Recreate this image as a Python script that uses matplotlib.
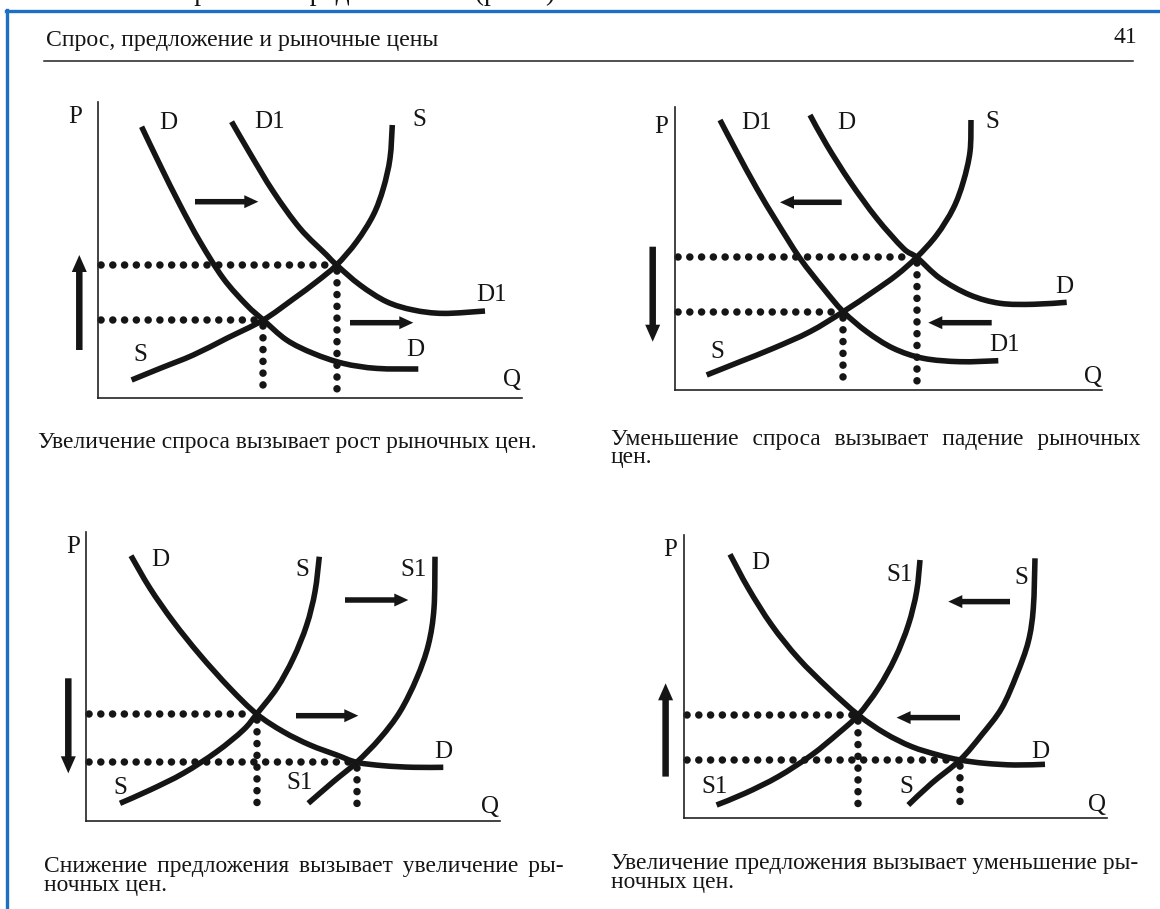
import matplotlib
matplotlib.use("Agg")
import matplotlib.pyplot as plt
from matplotlib.lines import Line2D
from matplotlib.path import Path
from matplotlib.patches import PathPatch
from matplotlib.transforms import Affine2D
from matplotlib.font_manager import FontProperties

# --- data (Q to the right, P upwards) ---

# 1: demand rises
p1_D_q = [43.3, 61.7, 81.7, 101.7, 125, 148.3, 165, 188.3, 215, 245, 278.3, 320]
p1_D_p = [271, 232.7, 192.7, 156, 119.3, 92.7, 77.7, 57.7, 44.3, 34.3, 29.3, 28.7]
p1_D1_q = [133.3, 151.7, 175, 201.7, 228.3, 238.3, 261.7, 288.3, 315, 345, 386.7]
p1_D1_p = [276, 244.3, 206, 169.3, 142.7, 132.7, 112.7, 96, 87.7, 84.3, 86.7]
p1_S_q = [33.3, 61.7, 95, 128.3, 165, 195, 218.3, 238.3, 258.3, 275, 285, 291.7, 294]
p1_S_p = [17.7, 29.3, 42.7, 59.3, 77.7, 98.7, 116, 132.7, 156, 182.7, 209.3, 239.3, 272.7]
p1_eq_q = [165, 238.3]
p1_eq_p = [77.7, 132.7]
p1_arrows = [(-19, 47.7, -19, 142.7), (96.7, 196, 160, 196), (251.7, 75, 315, 75)]
p1_labels = [("P", -23.3, 281), ("D", 70, 274.3), ("D1", 171.7, 276), ("S", 321, 277.7),
             ("D1", 393.3, 102.7), ("D", 316.7, 47.7), ("S", 41.7, 42.7), ("Q", 413.3, 17.7)]

# 2: demand falls
p2_D1_q = [45, 61.7, 81.7, 101.7, 125, 148.3, 168.3, 191.7, 218.3, 248.3, 285, 323.3]
p2_D1_p = [270, 238.3, 201.7, 168.3, 131.7, 101.7, 78.3, 58.3, 41.7, 31.7, 28.3, 29.3]
p2_D_q = [135, 151.7, 175, 201.7, 228.3, 241.7, 265, 295, 325, 358.3, 391.7]
p2_D_p = [275, 245, 208.3, 171.7, 141.7, 132.7, 111.7, 95, 86.7, 85.7, 87.7]
p2_S_q = [31.7, 65, 98.3, 135, 168.3, 198.3, 221.7, 241.7, 261.7, 278.3, 288.3, 295, 296]
p2_S_p = [15, 28.3, 41.7, 58.3, 78.3, 98.3, 115, 132.7, 155, 181.7, 208.3, 238.3, 270]
p2_eq_q = [168.3, 241.7]
p2_eq_p = [78.3, 132.7]
p2_arrows = [(-22.3, 143.3, -22.3, 48.3), (166.7, 187.7, 105, 187.7), (316.7, 67.3, 253.3, 67.3)]
p2_labels = [("P", -14.3, 263.3), ("D1", 81.7, 266.7), ("D", 171.7, 266.7), ("S", 317.7, 267.7),
             ("D", 389, 103.3), ("D1", 330, 45), ("S", 42.3, 38.3), ("Q", 418.3, 13.3)]

# 3: supply falls
p3_D_q = [45, 64, 87.3, 114, 144, 170.7, 197.3, 224, 250.7, 270.7, 297.3, 327.3, 357.3]
p3_D_p = [265.3, 232.7, 199.3, 166, 132.7, 107, 89.3, 76, 66, 58.7, 55.3, 53.7, 53.7]
p3_S_q = [34, 64, 97.3, 130.7, 157.3, 170.7, 190.7, 207.3, 220.7, 229, 233.3]
p3_S_p = [17.7, 31, 47.7, 69.3, 91, 107, 132.7, 162.7, 196, 229.3, 264.3]
p3_S1_q = [222.3, 247.3, 270.7, 294, 314, 330.7, 342.3, 348, 349]
p3_S1_p = [17.7, 39.3, 58.7, 82.7, 109.3, 142.7, 176, 212.7, 264.3]
p3_eq_q = [170.7, 270.7]
p3_eq_p = [107, 58.7]
p3_arrows = [(-17.7, 142.7, -17.7, 47.7), (259, 221, 322.3, 221), (210, 105.3, 272.3, 105.3)]
p3_labels = [("P", -12.7, 274.3), ("D", 74, 261), ("S", 216.7, 251), ("S1", 327.3, 251),
             ("D", 357.3, 69.3), ("S", 34, 32.7), ("S1", 214, 37.7), ("Q", 404, 14.3)]

# 4: supply rises
p4_D_q = [45.7, 64, 87.3, 114, 144, 174, 200.7, 227.3, 254, 275.7, 300.7, 330.7, 360.7]
p4_D_p = [264, 230, 193.3, 160, 130, 103.3, 85, 71.7, 63.3, 58.3, 55, 53.3, 54]
p4_S1_q = [32.3, 60.7, 94, 127.3, 154, 174, 194, 210.7, 224, 232.3, 235.7]
p4_S1_p = [13.3, 25, 41.7, 63.3, 85, 103.3, 130, 160, 193.3, 226.7, 258.3]
p4_S_q = [224, 247.3, 275.7, 297.3, 317.3, 332.3, 344, 349, 350.7]
p4_S_p = [13.3, 35, 58.3, 83.3, 110, 143.3, 176.7, 210, 260]
p4_eq_q = [174, 275.7]
p4_eq_p = [103.3, 58.3]
p4_arrows = [(-18.7, 41.7, -18.7, 135), (325.7, 216.7, 264, 216.7), (275.7, 100.7, 212.3, 100.7)]
p4_labels = [("P", -14.3, 268.3), ("D", 75.7, 255), ("S1", 215.7, 243.3), ("S", 337.3, 240),
             ("D", 355.7, 66.7), ("S1", 30.7, 31.7), ("S", 222.3, 31.7), ("Q", 412.3, 13.3)]

header = "Спрос, предложение и рыночные цены"
page_no = "41"
top_cut = "спросом и предложением (рис.3)."
cap1 = ["Увеличение спроса вызывает рост рыночных цен."]
cap2 = ["Уменьшение спроса вызывает падение рыночных", "цен."]
cap3 = ["Снижение предложения вызывает увеличение ры-", "ночных цен."]
cap4 = ["Увеличение предложения вызывает уменьшение ры-", "ночных цен."]

# --- drawing ---
W, H = 1160, 909
INK = "#151515"
BLUE = "#1c6fc2"
FAM = ["Liberation Serif", "DejaVu Serif"]
plt.rcParams["font.family"] = FAM

fig = plt.figure(figsize=(W / 100, H / 100), dpi=100)
fig.patch.set_facecolor("white")
PX = Affine2D().scale(1, -1).translate(0, H)   # page pixels, y down
rend = fig.canvas.get_renderer()


def panel(ox, oy, w, h):
    ax = fig.add_axes([ox / W, 1 - oy / H, w / W, h / H])
    ax.set_xlim(0, w)
    ax.set_ylim(0, h)
    ax.patch.set_alpha(0)
    for s in ["top", "right"]:
        ax.spines[s].set_visible(False)
    for s in ["left", "bottom"]:
        ax.spines[s].set_linewidth(1.2)
        ax.spines[s].set_color("#222222")
    ax.set_xticks([])
    ax.set_yticks([])
    return ax


def smooth(q, p):
    # bezier through the read points (catmull-rom tangents)
    pts = list(zip(q, p))
    n = len(pts)
    verts, codes = [pts[0]], [Path.MOVETO]
    for i in range(n - 1):
        a = pts[max(i - 1, 0)]
        b, c = pts[i], pts[i + 1]
        d = pts[min(i + 2, n - 1)]
        verts += [(b[0] + (c[0] - a[0]) / 6, b[1] + (c[1] - a[1]) / 6),
                  (c[0] - (d[0] - b[0]) / 6, c[1] - (d[1] - b[1]) / 6), c]
        codes += [Path.CURVE4] * 3
    return Path(verts, codes)


def draw(ax, curves, eq_q, eq_p, arrows, labels):
    dots = dict(color=INK, lw=5.4, linestyle=(0, (0.01, 1.56)), dash_capstyle="round", clip_on=False)
    for q, p in zip(eq_q, eq_p):
        ax.plot([3, q - 4], [p, p], **dots)
        ax.plot([q, q], [p - 6, 8], **dots)
    for q, p in curves:
        ax.add_patch(PathPatch(smooth(q, p), fill=False, ec=INK, lw=4,
                               capstyle="butt", joinstyle="round", clip_on=False))
    for x0, y0, x1, y1 in arrows:
        if x0 == x1:
            ax.arrow(x0, y0, 0, y1 - y0, width=6.5, head_width=15, head_length=17,
                     length_includes_head=True, color=INK, lw=0, clip_on=False)
        else:
            ax.arrow(x0, y0, x1 - x0, 0, width=5.5, head_width=13, head_length=14,
                     length_includes_head=True, color=INK, lw=0, clip_on=False)
    for s, q, p in labels:
        ax.text(q, p, s, fontsize=18, ha="center", va="center", color=INK, clip_on=False)


ax1 = panel(98.3, 397.7, 423.4, 296)
draw(ax1, [(p1_D_q, p1_D_p), (p1_D1_q, p1_D1_p), (p1_S_q, p1_S_p)], p1_eq_q, p1_eq_p, p1_arrows, p1_labels)
ax2 = panel(675, 390, 426.7, 283.3)
draw(ax2, [(p2_D1_q, p2_D1_p), (p2_D_q, p2_D_p), (p2_S_q, p2_S_p)], p2_eq_q, p2_eq_p, p2_arrows, p2_labels)
ax3 = panel(86, 821, 414, 289.3)
draw(ax3, [(p3_D_q, p3_D_p), (p3_S_q, p3_S_p), (p3_S1_q, p3_S1_p)], p3_eq_q, p3_eq_p, p3_arrows, p3_labels)
ax4 = panel(684.3, 818.3, 422.3, 283.3)
draw(ax4, [(p4_D_q, p4_D_p), (p4_S1_q, p4_S1_p), (p4_S_q, p4_S_p)], p4_eq_q, p4_eq_p, p4_arrows, p4_labels)


def width_of(s, size):
    t = fig.text(0, 0, s, fontsize=size, transform=PX)
    w = t.get_window_extent(rend).width
    t.remove()
    return w


def caption(lines, x0, base, size, x1=None, step=18.5):
    first = lines[0]
    if x1 is not None:
        # justify the first line with hair spaces
        words = first.split(" ")
        room = x1 - x0 - sum(width_of(w, size) for w in words)
        sp = width_of("a a", size) - width_of("aa", size)
        hair = width_of("a\u200aa", size) - width_of("aa", size)
        k = max(0, round((room / (len(words) - 1) - sp) / hair))
        first = (" " + "\u200a" * k).join(words)
    fp = FontProperties(family=FAM, size=size)
    _, lp_h, lp_d = rend.get_text_width_height_descent("lp", fp, ismath=False)
    ls = (step - lp_d) / (lp_h - lp_d)
    fig.text(x0, base - (lp_h - lp_d), "\n".join([first] + lines[1:]), fontsize=size,
             transform=PX, va="top", ha="left", linespacing=ls, color=INK)


# caption size chosen so the first caption spans its printed width
cs = 10 * 500 / width_of(cap1[0], 10)
hs = 10 * 394 / width_of(header, 10)

fig.text(46, 46, header, fontsize=hs, transform=PX, va="baseline", color=INK)
fig.text(1137, 43, page_no, fontsize=hs, transform=PX, ha="right", va="baseline", color=INK)
fig.text(562, -0.5, top_cut, fontsize=20, transform=PX, ha="right", va="baseline", color=INK)
fig.add_artist(Line2D([44, 1133], [60.5, 60.5], transform=PX, color="#222222", lw=1.1))

caption(cap1, 38, 448, cs)
caption(cap2, 611, 445, cs, 1138)
caption(cap3, 44, 872, cs, 567)
caption(cap4, 611, 869.5, cs, 1135)

# blue frame of the clipped screenshot
fig.add_artist(Line2D([6, W], [10.5, 10.5], transform=PX, color=BLUE, lw=2.4))
fig.add_artist(Line2D([6.5, 6.5], [10, H], transform=PX, color=BLUE, lw=2.4))

fig.savefig("out.png", dpi=100, facecolor="white")
